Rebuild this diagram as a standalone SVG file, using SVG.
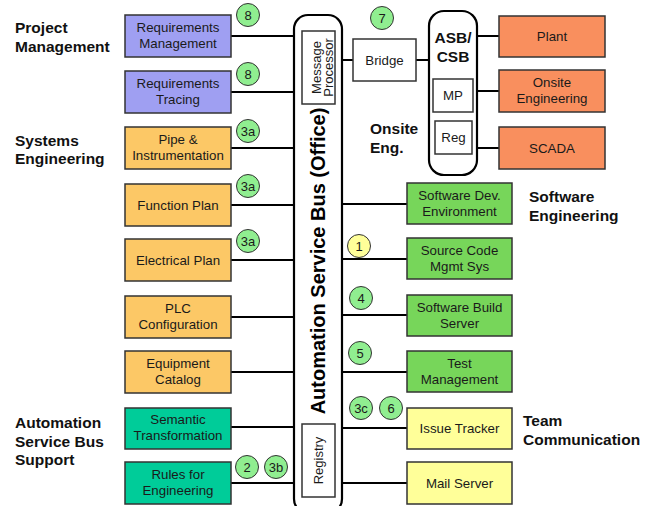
<svg xmlns="http://www.w3.org/2000/svg" width="656" height="506" viewBox="0 0 656 506">
<style>
text{font-family:"Liberation Sans",Arial,sans-serif;fill:#1a1a1a}
.n{font-size:13.3px;text-anchor:middle}
.cat{font-size:15.5px;font-weight:bold;fill:#111}
.box{stroke:#333;stroke-width:1.5}
.pu{fill:#9f9ff2}.or{fill:#fcc866}.gr{fill:#77d65a}.te{fill:#00cc99}.rd{fill:#f98f5e}.ye{fill:#ffff99}.wh{fill:#fff}
.c{fill:#90ee90;stroke:#333;stroke-width:1}
.cy{fill:#ffff99;stroke:#333;stroke-width:1}
.ct{font-size:13px;text-anchor:middle}
.ln{stroke:#000;stroke-width:2;fill:none}
.bus{fill:#fff;stroke:#000;stroke-width:2.2}
</style>
<rect width="656" height="506" fill="#fff"/>
<g id="connectors">
<path class="ln" d="M231 36H294M231 92H294M231 148H294M231 205H294M231 260H294M231 317H294M231 372H294M231 427H294M231 483H294"/>
<path class="ln" d="M342 204H407M342 259H407M342 315H407M342 372H407M342 428H407M342 483H407"/>
<path class="ln" d="M342 60H353M416 60H430M477 36H499M477 91H499M477 148H499"/>
</g>
<g id="bus">
<rect class="bus" x="294" y="15" width="48" height="498" rx="14"/>
<text transform="translate(325 261) rotate(-90)" style="font-size:20px;font-weight:bold;text-anchor:middle;fill:#000">Automation Service Bus (Office)</text>
</g>
<g id="message-processor">
<rect class="box wh" x="302" y="31" width="33" height="73"/>
<text transform="translate(321 67.5) rotate(-90)" class="n" style="font-size:13px">Message</text>
<text transform="translate(333 67.5) rotate(-90)" class="n" style="font-size:13px">Processor</text>
</g>
<g id="registry">
<rect class="box wh" x="302" y="424" width="33" height="73"/>
<text transform="translate(323 460.5) rotate(-90)" class="n" style="font-size:13px">Registry</text>
</g>
<g id="req-mgmt"><rect class="box pu" x="125" y="15" width="106" height="42"/><text class="n" x="178" y="32">Requirements</text><text class="n" x="178" y="48">Management</text></g>
<g id="req-tracing"><rect class="box pu" x="125" y="71" width="106" height="42"/><text class="n" x="178" y="88">Requirements</text><text class="n" x="178" y="104">Tracing</text></g>
<g id="pipe"><rect class="box or" x="125" y="127" width="106" height="42"/><text class="n" x="178" y="144">Pipe &amp;</text><text class="n" x="178" y="160">Instrumentation</text></g>
<g id="function-plan"><rect class="box or" x="125" y="184" width="106" height="42"/><text class="n" x="178" y="209.5">Function Plan</text></g>
<g id="electrical-plan"><rect class="box or" x="125" y="239" width="106" height="42"/><text class="n" x="178" y="264.5">Electrical Plan</text></g>
<g id="plc"><rect class="box or" x="125" y="296" width="106" height="42"/><text class="n" x="178" y="313">PLC</text><text class="n" x="178" y="329">Configuration</text></g>
<g id="equipment"><rect class="box or" x="125" y="351" width="106" height="42"/><text class="n" x="178" y="368">Equipment</text><text class="n" x="178" y="384">Catalog</text></g>
<g id="semantic"><rect class="box te" x="125" y="408" width="106" height="41"/><text class="n" x="178" y="424">Semantic</text><text class="n" x="178" y="440">Transformation</text></g>
<g id="rules"><rect class="box te" x="125" y="462" width="106" height="42"/><text class="n" x="178" y="479">Rules for</text><text class="n" x="178" y="495">Engineering</text></g>
<g id="sw-dev"><rect class="box gr" x="407" y="183" width="105" height="41"/><text class="n" x="459.5" y="199.5">Software Dev.</text><text class="n" x="459.5" y="215.5">Environment</text></g>
<g id="scm"><rect class="box gr" x="407" y="238" width="105" height="41"/><text class="n" x="459.5" y="254.5">Source Code</text><text class="n" x="459.5" y="270.5">Mgmt Sys</text></g>
<g id="build"><rect class="box gr" x="407" y="295" width="105" height="41"/><text class="n" x="459.5" y="311.5">Software Build</text><text class="n" x="459.5" y="327.5">Server</text></g>
<g id="test"><rect class="box gr" x="407" y="351" width="105" height="41"/><text class="n" x="459.5" y="367.5">Test</text><text class="n" x="459.5" y="383.5">Management</text></g>
<g id="issue"><rect class="box ye" x="407" y="408" width="105" height="41"/><text class="n" x="459.5" y="433">Issue Tracker</text></g>
<g id="mail"><rect class="box ye" x="407" y="462" width="105" height="42"/><text class="n" x="459.5" y="487.5">Mail Server</text></g>
<g id="bridge"><rect class="box wh" x="353" y="39" width="63" height="42"/><text class="n" x="384.5" y="64.5">Bridge</text></g>
<g id="asb-csb">
<rect class="bus" x="429" y="11" width="48" height="164" rx="15"/>
<text x="453" y="43" style="font-size:15.5px;font-weight:bold;text-anchor:middle;fill:#111">ASB/</text>
<text x="453" y="62" style="font-size:15.5px;font-weight:bold;text-anchor:middle;fill:#111">CSB</text>
</g>
<g id="mp"><rect class="box wh" x="433" y="79" width="40" height="33"/><text class="n" x="453" y="100">MP</text></g>
<g id="reg"><rect class="box wh" x="435" y="121" width="37" height="33"/><text class="n" x="453.5" y="142">Reg</text></g>
<g id="plant"><rect class="box rd" x="499" y="16" width="106" height="41"/><text class="n" x="552" y="41">Plant</text></g>
<g id="onsite"><rect class="box rd" x="499" y="70" width="106" height="42"/><text class="n" x="552" y="87">Onsite</text><text class="n" x="552" y="103">Engineering</text></g>
<g id="scada"><rect class="box rd" x="499" y="127" width="106" height="42"/><text class="n" x="552" y="152.5">SCADA</text></g>
<g id="badges">
<circle class="c" cx="248" cy="15" r="11.5"/><text class="ct" x="248" y="19.5">8</text>
<circle class="c" cx="248" cy="74" r="11.5"/><text class="ct" x="248" y="78.5">8</text>
<circle class="c" cx="248" cy="131" r="11.5"/><text class="ct" x="248" y="135.5">3a</text>
<circle class="c" cx="248" cy="186" r="11.5"/><text class="ct" x="248" y="190.5">3a</text>
<circle class="c" cx="248" cy="241" r="11.5"/><text class="ct" x="248" y="245.5">3a</text>
<circle class="c" cx="382" cy="18" r="11.5"/><text class="ct" x="382" y="22.5">7</text>
<circle class="cy" cx="359" cy="246" r="11.5"/><text class="ct" x="359" y="250.5">1</text>
<circle class="c" cx="361" cy="298" r="11.5"/><text class="ct" x="361" y="302.5">4</text>
<circle class="c" cx="360" cy="353" r="11.5"/><text class="ct" x="360" y="357.5">5</text>
<circle class="c" cx="361" cy="408" r="11.5"/><text class="ct" x="361" y="412.5">3c</text>
<circle class="c" cx="391" cy="408" r="11.5"/><text class="ct" x="391" y="412.5">6</text>
<circle class="c" cx="247" cy="467" r="11.5"/><text class="ct" x="247" y="471.5">2</text>
<circle class="c" cx="276" cy="467" r="11.5"/><text class="ct" x="276" y="471.5">3b</text>
</g>
<g id="labels">
<text class="cat" x="15" y="33">Project</text><text class="cat" x="15" y="52">Management</text>
<text class="cat" x="15" y="146">Systems</text><text class="cat" x="15" y="164">Engineering</text>
<text class="cat" x="370" y="134">Onsite</text><text class="cat" x="370" y="153">Eng.</text>
<text class="cat" x="529" y="202">Software</text><text class="cat" x="529" y="221">Engineering</text>
<text class="cat" x="15" y="428">Automation</text><text class="cat" x="15" y="447">Service Bus</text><text class="cat" x="15" y="465">Support</text>
<text class="cat" x="523" y="426">Team</text><text class="cat" x="523" y="445">Communication</text>
</g>
</svg>
